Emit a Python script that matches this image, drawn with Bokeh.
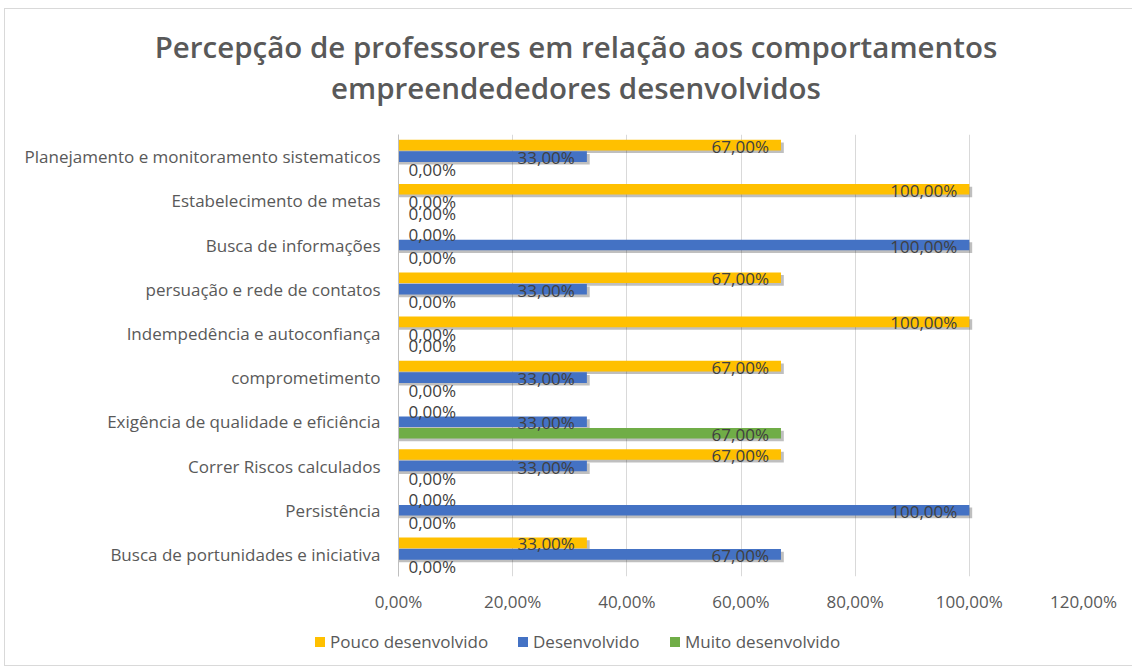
from bokeh.plotting import figure
from bokeh.models import ColumnDataSource, FixedTicker, Range1d, Div
from bokeh.layouts import column
from bokeh.core.properties import value
from bokeh.embed import file_html
from bokeh.resources import INLINE

categories = [
    "Planejamento e monitoramento sistematicos",
    "Estabelecimento de metas",
    "Busca de informações",
    "persuação e rede de contatos",
    "Indempedência e autoconfiança",
    "comprometimento",
    "Exigência de qualidade e eficiência",
    "Correr Riscos calculados",
    "Persistência",
    "Busca de portunidades e iniciativa",
]
pouco = [0.67, 1.00, 0.00, 0.67, 1.00, 0.67, 0.00, 0.67, 0.00, 0.33]
desenvolvido = [0.33, 0.00, 1.00, 0.33, 0.00, 0.33, 0.33, 0.33, 1.00, 0.67]
muito = [0.00, 0.00, 0.00, 0.00, 0.00, 0.00, 0.67, 0.00, 0.00, 0.00]
series_names = ["Pouco desenvolvido", "Desenvolvido", "Muito desenvolvido"]
colors = ["#FFC000", "#4472C4", "#70AD47"]
x_ticks = [0, 0.2, 0.4, 0.6, 0.8, 1.0, 1.2]
title_lines = ["Percepção de professores em relação aos comportamentos",
               "empreendededores desenvolvidos"]

FONT = "Open Sans"
FS = "17px"
n = len(categories)
ypos = [n - 1 - i for i in range(n)]
offsets = [0.26, 0.0, -0.26]
bar_h = 0.24

def pct(v):
    return ("%.2f%%" % (v * 100)).replace(".", ",")

p = figure(width=1128, height=500, output_backend="svg", toolbar_location=None,
           x_range=Range1d(0, 1.2), y_range=Range1d(-0.5, n - 0.5),
           min_border_left=393, min_border_right=50, min_border_top=15,
           min_border_bottom=43, margin=0)
p.outline_line_color = None
p.background_fill_color = "white"

for vals, off, col in zip([pouco, desenvolvido, muito], offsets, colors):
    ys = [y + off for y in ypos]
    src = ColumnDataSource(dict(y=ys, v=vals,
                                ys=[y - 0.06 for y in ys],
                                vs=[v + 0.005 if v > 0 else 0 for v in vals]))
    p.hbar(y="ys", left=0, right="vs", height=bar_h, source=src,
           fill_color="#000000", fill_alpha=0.25, line_color=None)
    p.hbar(y="y", left=0, right="v", height=bar_h, source=src,
           fill_color=col, line_color=None)

for vals, off in zip([pouco, desenvolvido, muito], offsets):
    nz_x, nz_y, nz_t, z_y = [], [], [], []
    for v, y in zip(vals, ypos):
        if v > 0:
            nz_x.append(v); nz_y.append(y + off); nz_t.append(pct(v))
        else:
            z_y.append(y + off)
    p.text(x=nz_x, y=nz_y, text=nz_t, text_align="right", text_baseline="middle",
           x_offset=-12, y_offset=1, text_font=value(FONT), text_font_size=FS,
           text_color="#404040")
    p.text(x=[0] * len(z_y), y=z_y, text=[pct(0)] * len(z_y), text_align="left",
           text_baseline="middle", x_offset=10, y_offset=1, text_font=value(FONT),
           text_font_size=FS, text_color="#404040")

p.xaxis.ticker = FixedTicker(ticks=x_ticks)
p.xaxis.major_label_overrides = {t: pct(t) for t in x_ticks}
p.xaxis.axis_line_color = None
p.xaxis.major_tick_line_color = None
p.xaxis.minor_tick_line_color = None
p.xaxis.major_tick_out = 0
p.xaxis.major_tick_in = 0
p.xaxis.major_label_text_font = FONT
p.xaxis.major_label_text_font_size = FS
p.xaxis.major_label_text_color = "#595959"
p.xaxis.major_label_standoff = 13

p.yaxis.ticker = FixedTicker(ticks=ypos)
p.yaxis.major_label_overrides = {y: c for y, c in zip(ypos, categories)}
p.yaxis.axis_line_color = "#bfbfbf"
p.yaxis.major_tick_line_color = None
p.yaxis.minor_tick_line_color = None
p.yaxis.major_tick_out = 0
p.yaxis.major_tick_in = 0
p.yaxis.major_label_text_font = FONT
p.yaxis.major_label_text_font_size = FS
p.yaxis.major_label_text_color = "#595959"
p.yaxis.major_label_standoff = 18

p.xgrid.grid_line_color = "#d9d9d9"
p.ygrid.grid_line_color = None

title_html = "".join(
    '<div style="height:41px;line-height:41px;white-space:nowrap;">%s</div>' % t
    for t in title_lines)
title_div = Div(text=title_html, width=1128, height=110, margin=0,
                styles={"text-align": "center", "font-family": FONT, "font-size": "29.5px",
                        "font-weight": "600", "color": "#595959",
                        "padding-top": "17px", "padding-left": "14px",
                        "box-sizing": "border-box"})

legend_x = [310, 513, 665]
items = []
for name, col, lx in zip(series_names, colors, legend_x):
    items.append(
        '<span style="position:absolute;left:%dpx;top:0px;white-space:nowrap;">'
        '<span style="display:inline-block;width:10px;height:10px;background:%s;'
        'margin-right:5px;vertical-align:middle;position:relative;top:-1px;"></span>%s</span>'
        % (lx, col, name))
legend_div = Div(text='<div style="position:relative;height:20px;line-height:20px;">%s</div>'
                 % "".join(items),
                 width=1128, height=46, margin=0,
                 styles={"font-family": FONT, "font-size": FS, "color": "#595959",
                         "padding-top": "13px", "box-sizing": "border-box"})

layout = column(title_div, p, legend_div, margin=(8, 0, 0, 4),
                styles={"border": "1px solid #d9d9d9", "background": "white"})

open("out.html", "w").write(file_html(layout, INLINE))
